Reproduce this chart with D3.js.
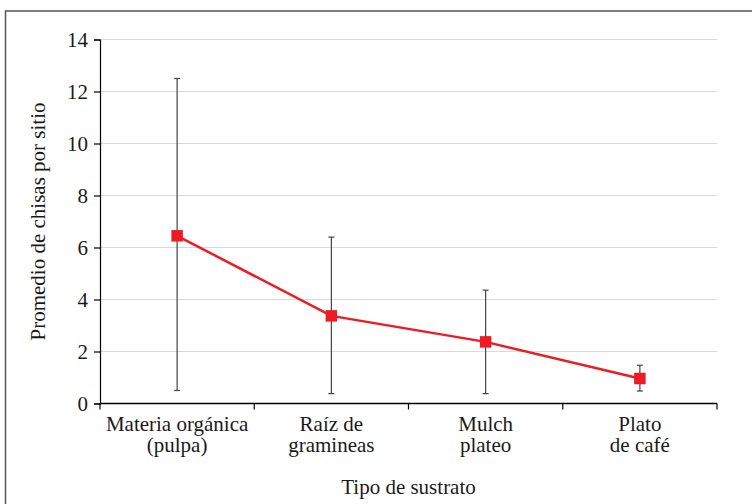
<!DOCTYPE html>
<html>
<head>
<meta charset="utf-8">
<script src="https://cdn.jsdelivr.net/npm/d3@7"></script>
<style>
  body { margin: 0; background: #fff; }
  svg text { font-family: "Liberation Serif", "Times New Roman", Times, serif !important; fill: #1a1a1a; }
</style>
</head>
<body>
<script>
// data
const categories = ["Materia orgánica|(pulpa)", "Raíz de|gramineas", "Mulch|plateo", "Plato|de café"];
const means = [6.45, 3.37, 2.37, 0.96];
const errLow = [0.5, 0.38, 0.38, 0.48];
const errHigh = [12.5, 6.4, 4.36, 1.47];
const yTicks = [0, 2, 4, 6, 8, 10, 12, 14];

const W = 752, H = 504;
const margin = {top: 39.5, right: 35, bottom: 100.5, left: 100};
const width = W - margin.left - margin.right,
      height = H - margin.top - margin.bottom;
const fs = 21;

const root = d3.select("body").append("svg")
  .attr("width", W).attr("height", H);

// outer frame (runs past the right and bottom edges)
root.append("rect")
  .attr("x", 5.5).attr("y", 11)
  .attr("width", W + 20).attr("height", H + 20)
  .attr("fill", "none").attr("stroke", "#555").attr("stroke-width", 1.5);

const svg = root.append("g")
  .attr("transform", "translate(" + margin.left + "," + margin.top + ")");

const x = d3.scaleBand().domain(categories).range([0, width]);
const y = d3.scaleLinear().domain([0, 14]).range([height, 0]);

// gridlines
svg.append("g")
  .selectAll("line")
  .data(yTicks.filter(d => d > 0))
  .enter().append("line")
    .attr("x1", 0).attr("x2", width)
    .attr("y1", d => y(d)).attr("y2", d => y(d))
    .attr("stroke", "#d9d9d9").attr("stroke-width", 1.2);

// y axis
const yAxis = svg.append("g")
  .call(d3.axisLeft(y).tickValues(yTicks).tickSize(6).tickPadding(6));
yAxis.select(".domain").attr("stroke", "#000").attr("stroke-width", 1.2);
yAxis.selectAll(".tick line").attr("stroke", "#000").attr("stroke-width", 1.2);
yAxis.selectAll("text").attr("font-size", fs);

// x axis with ticks at band boundaries
const xAxis = svg.append("g")
  .attr("transform", "translate(0," + height + ")");
xAxis.append("line")
  .attr("x1", 0).attr("x2", width)
  .attr("stroke", "#000").attr("stroke-width", 1.5);
const bounds = categories.map(c => x(c)).concat([width]);
xAxis.selectAll(".xt")
  .data(bounds)
  .enter().append("line")
    .attr("class", "xt")
    .attr("x1", d => d).attr("x2", d => d)
    .attr("y1", 0).attr("y2", 6)
    .attr("stroke", "#000").attr("stroke-width", 1.2);

const labels = xAxis.selectAll(".xl")
  .data(categories)
  .enter().append("text")
    .attr("class", "xl")
    .attr("text-anchor", "middle")
    .attr("font-size", fs)
    .attr("x", d => x(d) + x.bandwidth() / 2)
    .attr("y", 27);
labels.selectAll("tspan")
  .data(d => d.split("|"))
  .enter().append("tspan")
    .attr("x", function() { return d3.select(this.parentNode).attr("x"); })
    .attr("dy", (d, i) => i === 0 ? 0 : 21.5)
    .text(d => d);

// error bars
const cap = 3;
const eb = svg.append("g").attr("stroke", "#444").attr("stroke-width", 1.2);
categories.forEach((c, i) => {
  const cx = x(c) + x.bandwidth() / 2;
  eb.append("line").attr("x1", cx).attr("x2", cx)
    .attr("y1", y(errLow[i])).attr("y2", y(errHigh[i]));
  eb.append("line").attr("x1", cx - cap).attr("x2", cx + cap)
    .attr("y1", y(errLow[i])).attr("y2", y(errLow[i]));
  eb.append("line").attr("x1", cx - cap).attr("x2", cx + cap)
    .attr("y1", y(errHigh[i])).attr("y2", y(errHigh[i]));
});

// mean line
const line = d3.line()
  .x((d, i) => x(categories[i]) + x.bandwidth() / 2)
  .y(d => y(d));
svg.append("path")
  .datum(means)
  .attr("fill", "none")
  .attr("stroke", "#ed1c24")
  .attr("stroke-width", 2.5)
  .attr("d", line);

const sz = 11.5;
svg.selectAll(".pt")
  .data(means)
  .enter().append("rect")
    .attr("class", "pt")
    .attr("x", (d, i) => x(categories[i]) + x.bandwidth() / 2 - sz / 2)
    .attr("y", d => y(d) - sz / 2)
    .attr("width", sz).attr("height", sz)
    .attr("fill", "#ed1c24");

// axis titles
root.append("text")
  .attr("text-anchor", "middle")
  .attr("font-size", fs)
  .attr("transform", "translate(45," + (margin.top + height / 2) + ") rotate(-90)")
  .text("Promedio de chisas por sitio");

root.append("text")
  .attr("text-anchor", "middle")
  .attr("font-size", fs)
  .attr("x", margin.left + width / 2)
  .attr("y", 494)
  .text("Tipo de sustrato");
</script>
</body>
</html>
